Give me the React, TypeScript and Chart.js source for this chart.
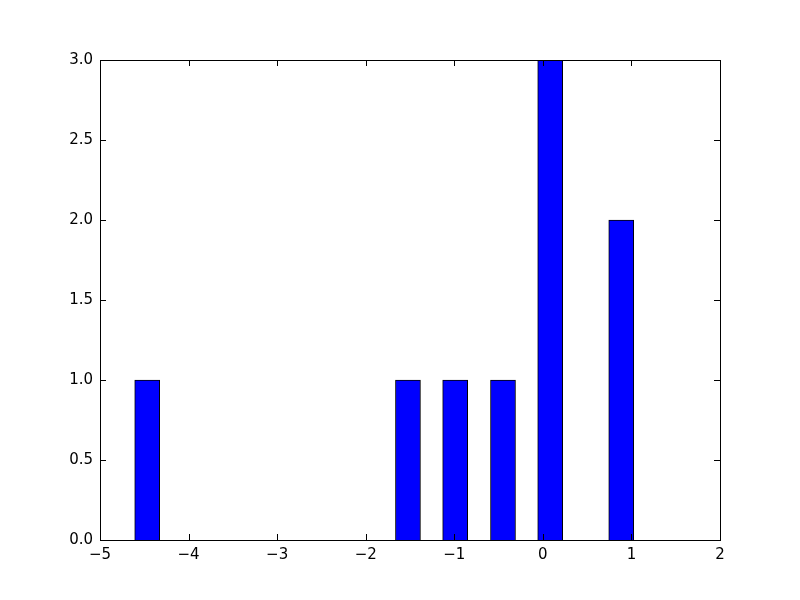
import React, { useEffect, useRef } from "react";
import { Chart, registerables } from "chart.js";

Chart.register(...registerables);

const binCenters: number[] = [-4.467, -1.523, -0.99, -0.45, 0.083, 0.885];
const counts: number[] = [1, 1, 1, 1, 3, 2];
const xTicks: number[] = [-5, -4, -3, -2, -1, 0, 1, 2];
const yTicks: number[] = [0, 0.5, 1, 1.5, 2, 2.5, 3];

const fmt = (v: number, digits: number) => {
  const s = v.toFixed(digits);
  return s.replace("-", "\u2212");
};

const framePlugin = {
  id: "mplFrame",
  afterDatasetsDraw(chart: any) {
    const { ctx, chartArea } = chart;
    const { left, right, top, bottom } = chartArea;
    const xs = chart.scales.x;
    const ys = chart.scales.y;
    const L = 6;
    ctx.save();
    ctx.strokeStyle = "#000";
    ctx.lineWidth = 1;
    ctx.beginPath();
    xTicks.forEach((t) => {
      const px = Math.round(xs.getPixelForValue(t)) + 0.5;
      ctx.moveTo(px, bottom);
      ctx.lineTo(px, bottom - L);
      ctx.moveTo(px, top);
      ctx.lineTo(px, top + L);
    });
    yTicks.forEach((t) => {
      const py = Math.round(ys.getPixelForValue(t)) + 0.5;
      ctx.moveTo(left, py);
      ctx.lineTo(left + L, py);
      ctx.moveTo(right, py);
      ctx.lineTo(right - L, py);
    });
    ctx.stroke();
    ctx.strokeRect(Math.round(left) + 0.5, Math.round(top) + 0.5, Math.round(right - left), Math.round(bottom - top));
    ctx.restore();
  },
};

export default function App() {
  const ref = useRef<HTMLCanvasElement>(null);
  useEffect(() => {
    document.body.style.margin = "0";
    const chart = new Chart(ref.current!, {
      type: "bar",
      data: {
        datasets: [
          {
            data: binCenters.map((x, i) => ({ x, y: counts[i] })),
            backgroundColor: "#0000ff",
            borderColor: "#000000",
            borderWidth: 1,
            barThickness: 25,
          },
        ],
      },
      options: {
        animation: false,
        responsive: false,
        layout: { padding: { top: 60, right: 80, left: 0, bottom: 0 } },
        plugins: { legend: { display: false }, tooltip: { enabled: false } },
        scales: {
          x: {
            type: "linear",
            min: -5,
            max: 2,
            offset: false,
            grid: { display: false, drawTicks: false },
            border: { display: false },
            afterFit: (s: any) => {
              s.height = 60;
            },
            afterBuildTicks: (s: any) => {
              s.ticks = xTicks.map((v) => ({ value: v }));
            },
            ticks: {
              padding: 6,
              color: "#000",
              font: { family: "DejaVu Sans", size: 15 },
              maxRotation: 0,
              callback: (v: any) => fmt(Number(v), 0),
            },
          },
          y: {
            min: 0,
            max: 3,
            grid: { display: false, drawTicks: false },
            border: { display: false },
            afterFit: (s: any) => {
              s.width = 100;
            },
            afterBuildTicks: (s: any) => {
              s.ticks = yTicks.map((v) => ({ value: v }));
            },
            ticks: {
              padding: 7,
              color: "#000",
              font: { family: "DejaVu Sans", size: 15 },
              callback: (v: any) => fmt(Number(v), 1),
            },
          },
        },
      },
      plugins: [framePlugin],
    });
    return () => chart.destroy();
  }, []);
  return <canvas ref={ref} width={800} height={600} style={{ display: "block" }} />;
}
